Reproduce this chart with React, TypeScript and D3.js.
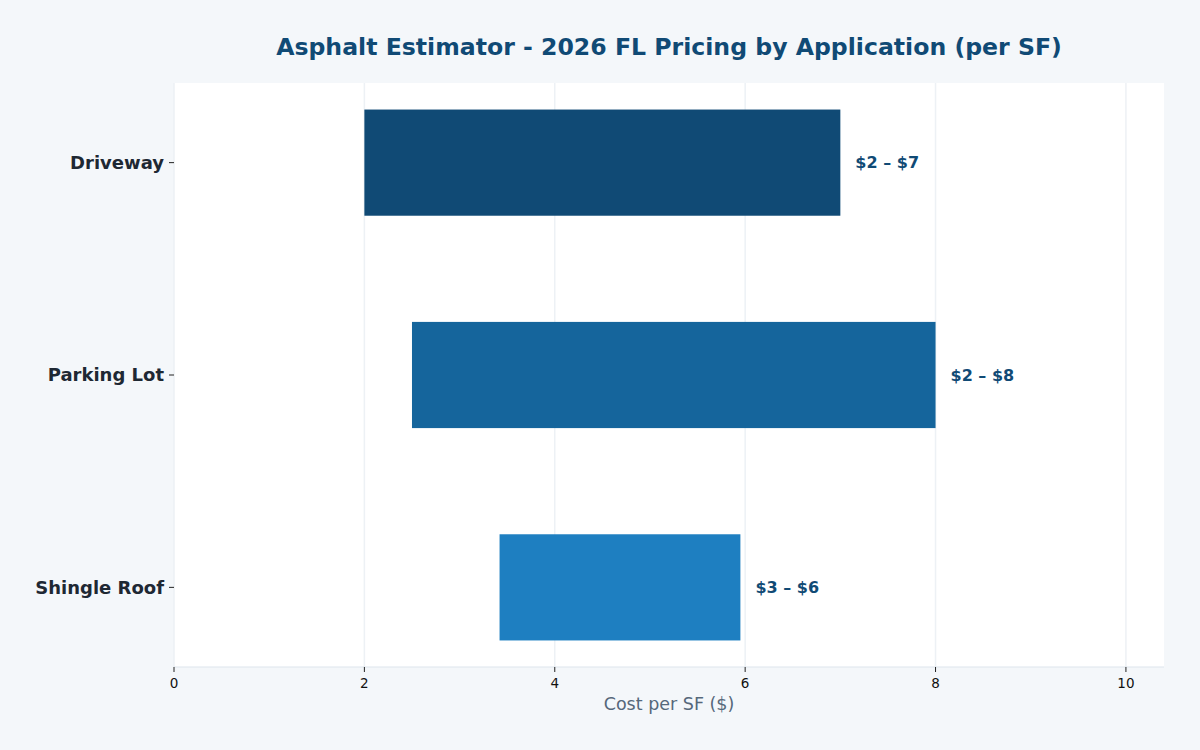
import React from "react";
import * as d3 from "d3";

const categories = ["Driveway", "Parking Lot", "Shingle Roof"];
const lowCost = [2.0, 2.5, 3.42];
const highCost = [7.0, 8.0, 5.95];
const rangeLabels = ["$2 – $7", "$2 – $8", "$3 – $6"];
const barColors = ["#104a75", "#15659c", "#1e7fc1"];
const xTicks = [0, 2, 4, 6, 8, 10];

const W = 1200;
const H = 750;
const plot = { left: 174, right: 1164, top: 83, bottom: 667 };
const font = "'DejaVu Sans', sans-serif";

export default function App() {
  const x = d3.scaleLinear().domain([0, 10.4]).range([plot.left, plot.right]);
  const y = d3
    .scaleLinear()
    .domain([-0.375, categories.length - 1 + 0.375])
    .range([plot.top, plot.bottom]);
  const barH = y(0.25) - y(-0.25);

  return (
    <svg
      width={W}
      height={H}
      style={{ position: "absolute", left: 0, top: 0, fontFamily: font }}
    >
      <rect width={W} height={H} fill="#f4f7fa" />
      <rect
        x={plot.left}
        y={plot.top}
        width={plot.right - plot.left}
        height={plot.bottom - plot.top}
        fill="#ffffff"
      />
      {/* vertical grid */}
      {xTicks.map((t) => (
        <line
          key={"g" + t}
          x1={x(t)}
          x2={x(t)}
          y1={plot.top}
          y2={plot.bottom}
          stroke="#edf1f5"
          strokeWidth={1.5}
        />
      ))}
      <line
        x1={plot.left}
        x2={plot.right}
        y1={plot.bottom}
        y2={plot.bottom}
        stroke="#dde5ec"
        strokeWidth={1}
      />

      {/* bars */}
      {categories.map((c, i) => (
        <g key={c}>
          <rect
            x={x(lowCost[i])}
            y={y(i) - barH / 2}
            width={x(highCost[i]) - x(lowCost[i])}
            height={barH}
            fill={barColors[i]}
          />
          <text
            x={x(highCost[i]) + 15}
            y={y(i)}
            dy="0.35em"
            fontSize={16}
            fontWeight="bold"
            fill="#104a75"
          >
            {rangeLabels[i]}
          </text>
          <line
            x1={plot.left - 5}
            x2={plot.left}
            y1={y(i)}
            y2={y(i)}
            stroke="#222"
            strokeWidth={1}
          />
          <text
            x={plot.left - 10}
            y={y(i)}
            dy="0.35em"
            textAnchor="end"
            fontSize={18}
            fontWeight="bold"
            fill="#1e2833"
          >
            {c}
          </text>
        </g>
      ))}

      {/* x axis ticks */}
      {xTicks.map((t) => (
        <g key={"t" + t}>
          <line
            x1={x(t)}
            x2={x(t)}
            y1={plot.bottom}
            y2={plot.bottom + 5}
            stroke="#222"
            strokeWidth={1}
          />
          <text
            x={x(t)}
            y={plot.bottom + 16}
            dy="0.35em"
            textAnchor="middle"
            fontSize={13.5}
            fill="#111"
          >
            {t}
          </text>
        </g>
      ))}
      <text
        x={(plot.left + plot.right) / 2}
        y={704}
        dy="0.35em"
        textAnchor="middle"
        fontSize={17.5}
        fill="#56687a"
      >
        Cost per SF ($)
      </text>

      <text
        x={(plot.left + plot.right) / 2}
        y={47}
        dy="0.35em"
        textAnchor="middle"
        fontSize={23.6}
        fontWeight="bold"
        fill="#104a75"
      >
        Asphalt Estimator - 2026 FL Pricing by Application (per SF)
      </text>
    </svg>
  );
}
